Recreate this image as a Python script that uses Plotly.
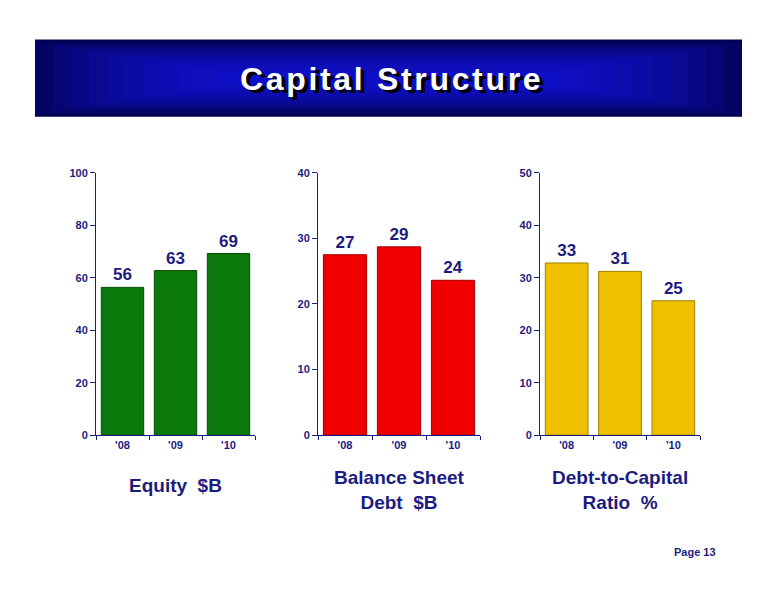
import plotly.graph_objects as go

years = ["'08", "'09", "'10"]
equity = [56.3, 62.7, 69.2]
debt = [27.5, 28.7, 23.6]
ratio = [32.8, 31.2, 25.6]
equity_labels = ["56", "63", "69"]
debt_labels = ["27", "29", "24"]
ratio_labels = ["33", "31", "25"]

# page body has an 8px margin, so draw on a slightly smaller canvas
OFF = 8
W, H = 776 - 2 * OFF, 600 - 2 * OFF
NAVY = "#1c1c80"
FONT = "Liberation Sans, Arial, sans-serif"

def px(x):
    return (x - OFF) / W

def py(y):
    return 1 - (y - OFF) / H

fig = go.Figure()

panels = [
    (equity, equity_labels, "#0a780a", "#064d06", 100, 20, (96, 255), "Equity  $B", 489),
    (debt, debt_labels, "#f00000", "#a00000", 40, 10, (318, 480), "Balance Sheet<br>Debt  $B", 494),
    (ratio, ratio_labels, "#f0c000", "#a08000", 50, 10, (540, 700), "Debt-to-Capital<br>Ratio  %", 494),
]

for i, (vals, labs, col, edge, ymax, dt, (x0, x1), name, ly) in enumerate(panels):
    n = "" if i == 0 else str(i + 1)
    fig.add_trace(go.Bar(
        x=years, y=vals, text=labs, textposition="outside",
        textfont=dict(color=NAVY, size=17, family=FONT, weight="bold"),
        marker=dict(color=col, line=dict(color=edge, width=1)),
        width=0.8, cliponaxis=False, showlegend=False,
        xaxis="x" + n, yaxis="y" + n,
    ))
    fig.update_layout({
        "xaxis" + n: dict(domain=[px(x0), px(x1)], anchor="y" + n,
                          showline=True, linecolor=NAVY, ticks="outside",
                          tickson="boundaries", tickcolor=NAVY, ticklen=4,
                          tickfont=dict(color=NAVY, size=11, family=FONT, weight="bold"),
                          showgrid=False),
        "yaxis" + n: dict(domain=[py(438), py(170)], anchor="x" + n,
                          range=[0, ymax], dtick=dt, showline=True,
                          linecolor=NAVY, ticks="outside", tickcolor=NAVY,
                          ticklen=5, tickfont=dict(color=NAVY, size=11, family=FONT, weight="bold"),
                          showgrid=False, zeroline=False),
    })
    fig.add_annotation(x=px((x0 + x1) / 2), y=py(ly), xref="paper", yref="paper",
                       text="<b>" + name + "</b>", showarrow=False,
                       xanchor="center", yanchor="middle",
                       font=dict(color=NAVY, size=19, family=FONT), align="center")

# title banner (layered rects to fake the gradient)
fig.add_shape(type="rect", xref="paper", yref="paper", x0=px(35), x1=px(742),
              y0=py(113), y1=py(34), fillcolor="#000050", line_width=0, layer="below")
for k in range(12):
    fig.add_shape(type="rect", xref="paper", yref="paper",
                  x0=px(35 + 18 * k), x1=px(742 - 18 * k),
                  y0=py(110 - 3 * k), y1=py(37 + 3 * k),
                  fillcolor="#1818e0", opacity=0.14, line_width=0, layer="below")
title = "<b>" + "\u200a".join("Capital Structure") + "</b>"
fig.add_annotation(x=px(394), y=py(77), xref="paper", yref="paper",
                   text=title, showarrow=False, xanchor="center", yanchor="middle",
                   font=dict(color="#000000", size=32, family=FONT))
fig.add_annotation(x=px(391), y=py(74), xref="paper", yref="paper",
                   text=title, showarrow=False, xanchor="center", yanchor="middle",
                   font=dict(color="white", size=32, family=FONT))

fig.add_annotation(x=px(718), y=py(557), xref="paper", yref="paper",
                   text="<b>Page 13</b>", showarrow=False, xanchor="right",
                   yanchor="middle", font=dict(color=NAVY, size=11, family=FONT))

fig.update_layout(width=W, height=H, margin=dict(l=0, r=0, t=0, b=0),
                  plot_bgcolor="white", paper_bgcolor="white",
                  font=dict(family=FONT))

fig.write_html("out.html")
